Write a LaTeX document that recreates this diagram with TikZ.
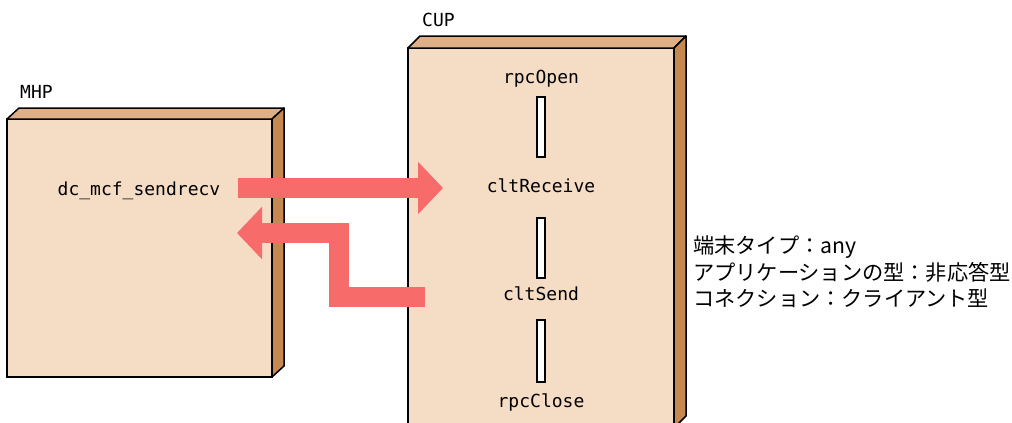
\documentclass[tikz,border=0pt]{standalone}
\usepackage{fontspec}
\setmonofont{DejaVu Sans Mono}
\newfontfamily\cjk{Noto Sans CJK JP}
\usetikzlibrary{arrows.meta}
\definecolor{frontc}{RGB}{245,220,197}
\definecolor{topc}{RGB}{222,176,136}
\definecolor{sidec}{RGB}{196,136,80}
\definecolor{arrc}{RGB}{248,107,107}
\tikzset{
  front/.style={draw=black, line width=1.5pt, fill=frontc, inner sep=0pt, outer sep=0pt},
  topface/.style={draw=black, line width=1.5pt, fill=topc, line join=round},
  sideface/.style={draw=black, line width=1.5pt, fill=sidec, line join=round},
  lbl/.style={font=\fontsize{18}{20}\selectfont\ttfamily, inner sep=0pt, anchor=base},
  bar/.style={draw=black, line width=1.2pt, fill=white, minimum width=8pt, inner sep=0pt},
  flow/.style={draw=arrc, line width=20pt, line join=miter, -{Triangle[length=25pt,width=51pt]}},
  note/.style={font=\fontsize{21.2}{26}\selectfont\cjk, inner sep=0pt, anchor=base west, align=left}
}
\begin{document}
\begin{tikzpicture}[x=1pt,y=-1pt]
\useasboundingbox (0,0) rectangle (1012,423);
% MHP box
\node[front, minimum width=265pt, minimum height=258pt] (mhp) at (139.5,248) {};
\draw[topface] (mhp.north west) -- ++(12,-11) -- ++(265,0) -- (mhp.north east) -- cycle;
\draw[sideface] (mhp.north east) -- ++(12,-11) -- ++(0,258) -- (mhp.south east) -- cycle;
\node[lbl, anchor=base west] (mhplbl) at (20,98) {MHP};
% CUP box
\node[front, minimum width=266pt, minimum height=380pt] (cup) at (541,238) {};
\draw[topface] (cup.north west) -- ++(12,-12) -- ++(266,0) -- (cup.north east) -- cycle;
\draw[sideface] (cup.north east) -- ++(12,-12) -- ++(0,380) -- (cup.south east) -- cycle;
\node[lbl, anchor=base west] (cuplbl) at (422,27) {CUP};
% labels in CUP
\node[lbl] (open) at (541,83) {rpcOpen};
\node[lbl] (recv) at (541,192) {cltReceive};
\node[lbl] (send) at (541,300) {cltSend};
\node[lbl] (close) at (541,407) {rpcClose};
\node[bar, minimum height=60pt] (b1) at (541,127) {};
\node[bar, minimum height=60pt] (b2) at (541,248) {};
\node[bar, minimum height=62pt] (b3) at (541,351) {};
% MHP label
\node[lbl] (dc) at (139,195) {dc\_mcf\_sendrecv};
% flows
\coordinate (r1) at (238,188);
\coordinate (r2) at (443,188);
\coordinate (l1) at (425,297);
\coordinate (l2) at (338.5,297);
\coordinate (l3) at (338.5,233);
\coordinate (l4) at (237,233);
\draw[flow] (r1) -- (r2);
\draw[flow] (l1) -- (l2) -- (l3) -- (l4);
% note
\node[note] (n1) at (693,253) {端末タイプ：any};
\node[note] (n2) at (693,280) {アプリケーションの型：非応答型};
\node[note] (n3) at (693,306) {コネクション：クライアント型};
\end{tikzpicture}
\end{document}
